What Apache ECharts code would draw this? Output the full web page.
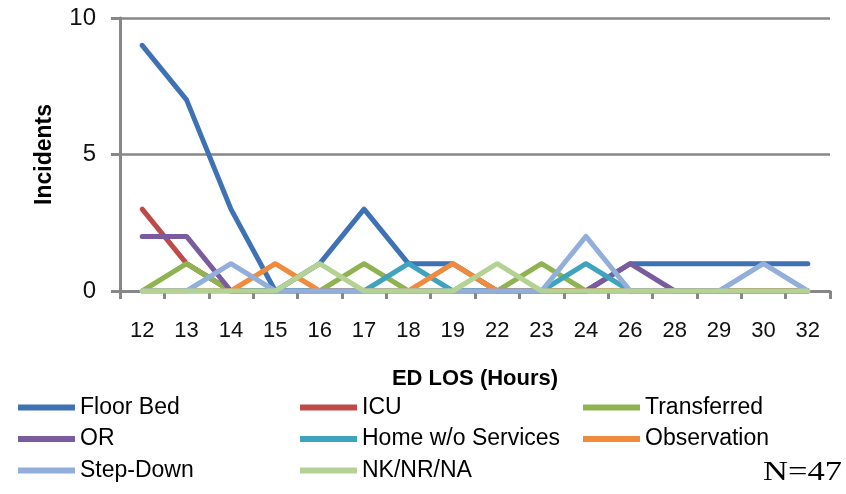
<!DOCTYPE html>
<html>
<head>
<meta charset="utf-8">
<script src="https://cdn.jsdelivr.net/npm/echarts@6/dist/echarts.min.js"></script>
<style>
  html, body { margin: 0; padding: 0; background: #fff; }
  #chart { width: 846px; height: 494px; }
</style>
</head>
<body>
<div id="chart"></div>
<script>
// ED LOS (hours) categories
const hours = ["12", "13", "14", "15", "16", "17", "18", "19", "22", "23", "24", "26", "28", "29", "30", "32"];

// incidents per disposition
const floorBed    = [9, 7, 3, 0, 1, 3, 1, 1, 0, 0, 0, 1, 1, 1, 1, 1];
const icu         = [3, 1, 0, 0, 0, 0, 0, 0, 0, 0, 0, 0, 0, 0, 0, 0];
const transferred = [0, 1, 0, 0, 0, 1, 0, 0, 0, 1, 0, 0, 0, 0, 0, 0];
const orData      = [2, 2, 0, 0, 0, 0, 0, 0, 0, 0, 0, 1, 0, 0, 0, 0];
const homeNoSvc   = [0, 0, 0, 0, 0, 0, 1, 0, 0, 0, 1, 0, 0, 0, 0, 0];
const observation = [0, 0, 0, 1, 0, 0, 0, 1, 0, 0, 0, 0, 0, 0, 0, 0];
const stepDown    = [0, 0, 1, 0, 0, 0, 0, 0, 0, 0, 2, 0, 0, 0, 1, 0];
const nkNrNa      = [0, 0, 0, 0, 1, 0, 0, 0, 1, 0, 0, 0, 0, 0, 0, 0];

const seriesDefs = [
  { name: "Floor Bed", data: floorBed, color: "#3f72b4" },
  { name: "ICU", data: icu, color: "#be4b48" },
  { name: "Transferred", data: transferred, color: "#8fb350" },
  { name: "OR", data: orData, color: "#7a5c9e" },
  { name: "Home w/o Services", data: homeNoSvc, color: "#3fa3bd" },
  { name: "Observation", data: observation, color: "#f08a3c" },
  { name: "Step-Down", data: stepDown, color: "#92aedb" },
  { name: "NK/NR/NA", data: nkNrNa, color: "#b5d295" },
];

const axisGray = "#878787";
const font = "Liberation Sans";

const chart = echarts.init(document.getElementById("chart"));

// one vertical legend per column, like the 3-column excel legend
function legendCol(names, left) {
  return {
    orient: "vertical",
    left: left,
    top: 396,
    padding: 0,
    data: names,
    icon: "rect",
    itemWidth: 57,
    itemHeight: 6,
    itemGap: 8.5,
    selectedMode: false,
    textStyle: { fontFamily: font, fontSize: 23, color: "#000" },
  };
}

const option = {
  animation: false,
  grid: { left: 120, right: 16, top: 18, bottom: 203 },
  legend: [
    legendCol(["Floor Bed", "OR", "Step-Down"], 18),
    legendCol(["ICU", "Home w/o Services", "NK/NR/NA"], 300),
    legendCol(["Transferred", "Observation"], 583),
  ],
  xAxis: {
    type: "category",
    data: hours,
    boundaryGap: true,
    name: "ED LOS (Hours)",
    nameLocation: "middle",
    nameGap: 77,
    nameTextStyle: { fontFamily: font, fontSize: 22, fontWeight: "bold", color: "#000", verticalAlign: "top" },
    axisLine: { lineStyle: { color: axisGray, width: 3 } },
    axisTick: { show: true, alignWithLabel: false, length: 8, lineStyle: { color: axisGray, width: 3 } },
    axisLabel: { fontFamily: font, fontSize: 22, color: "#111", margin: 29 },
  },
  yAxis: {
    type: "value",
    min: 0,
    max: 10,
    interval: 5,
    name: "Incidents",
    nameLocation: "middle",
    nameGap: 64,
    nameTextStyle: { fontFamily: font, fontSize: 23, fontWeight: "bold", color: "#000" },
    axisLine: { show: true, lineStyle: { color: axisGray, width: 3 } },
    axisTick: { show: true, length: 9, lineStyle: { color: axisGray, width: 3 } },
    axisLabel: { fontFamily: font, fontSize: 24, color: "#111", margin: 24 },
    splitLine: { lineStyle: { color: axisGray, width: 2.5 } },
  },
  series: seriesDefs.map(function (s) {
    return {
      name: s.name,
      type: "line",
      data: s.data,
      symbol: "none",
      color: s.color,
      lineStyle: { width: 5, color: s.color, cap: "round", join: "round" },
    };
  }),
  graphic: [
    {
      type: "text",
      x: 842,
      y: 486,
      scaleX: 1.28,
      style: {
        text: "N=47",
        fontFamily: "Liberation Serif",
        fontSize: 27,
        fill: "#000",
        align: "right",
        verticalAlign: "bottom",
      },
    },
  ],
};

chart.setOption(option);
</script>
</body>
</html>
